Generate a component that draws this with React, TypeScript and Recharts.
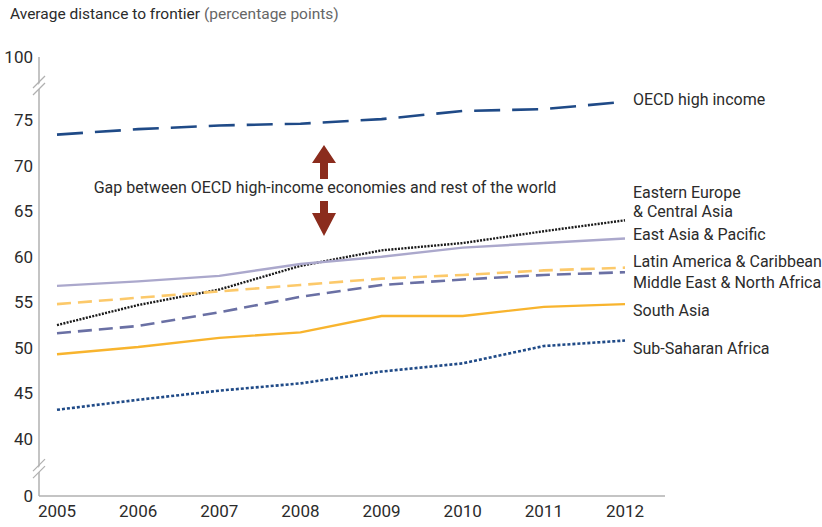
import { LineChart, Line, XAxis, YAxis } from 'recharts';

// values
const years = ['2005', '2006', '2007', '2008', '2009', '2010', '2011', '2012'];
const oecdHighIncome = [73.4, 74.0, 74.4, 74.6, 75.1, 76.0, 76.2, 77.0];
const easternEurope = [52.5, 54.7, 56.4, 59.0, 60.7, 61.5, 62.8, 64.0];
const eastAsia = [56.8, 57.3, 57.9, 59.2, 60.0, 61.0, 61.5, 62.0];
const latinAmerica = [54.8, 55.5, 56.2, 56.9, 57.6, 58.0, 58.5, 58.8];
const middleEast = [51.6, 52.4, 53.9, 55.6, 56.9, 57.5, 58.0, 58.3];
const southAsia = [49.3, 50.1, 51.1, 51.7, 53.5, 53.5, 54.5, 54.8];
const subSaharan = [43.2, 44.3, 45.3, 46.1, 47.4, 48.3, 50.2, 50.8];

// broken y axis: 0 and 100 are drawn just outside the 40–75 range
const AXIS_ZERO = 33.74;
const AXIS_HUNDRED = 81.92;
const BREAK_LOW = 36.8;
const BREAK_HIGH = 78.85;
const midTicks = [40, 45, 50, 55, 60, 65, 70, 75];

const FONT = "Roboto, 'Open Sans', sans-serif";
const TEXT = '#2b2b2b';
const AXIS = '#b0b0b0';

const series = [
  { key: 'oecd', values: oecdHighIncome, color: '#1f4a87', dash: '26 12', width: 2.6, label: ['OECD high income'], dy: -3 },
  { key: 'eca', values: easternEurope, color: '#1a1a1a', dash: '2 1.3', width: 2.4, label: ['Eastern Europe', '& Central Asia'], dy: -28.5 },
  { key: 'eap', values: eastAsia, color: '#aba8cc', dash: undefined, width: 2.4, label: ['East Asia & Pacific'], dy: -5 },
  { key: 'lac', values: latinAmerica, color: '#fcc96a', dash: '14 7', width: 2.6, label: ['Latin America & Caribbean'], dy: -7 },
  { key: 'mena', values: middleEast, color: '#6a70a4', dash: '14 7', width: 2.6, label: ['Middle East & North Africa'], dy: 10 },
  { key: 'sa', values: southAsia, color: '#f8b42e', dash: undefined, width: 2.4, label: ['South Asia'], dy: 6 },
  { key: 'ssa', values: subSaharan, color: '#1f4a87', dash: '3 2', width: 2.6, label: ['Sub-Saharan Africa'], dy: 7 },
];

const data = years.map((year, i) => {
  const row: Record<string, string | number> = { year };
  series.forEach((s) => (row[s.key] = s.values[i]));
  return row;
});

function YTick(props: any) {
  const { x, y, payload } = props;
  const v = payload.value;
  if (v === BREAK_LOW || v === BREAK_HIGH) {
    const ax = x + 6;
    return (
      <g>
        <polygon points={`${ax - 6},${y + 5} ${ax + 6},${y - 7} ${ax + 6},${y - 2} ${ax - 6},${y + 10}`} fill="#fff" />
        <line x1={ax - 6} y1={y + 10} x2={ax + 6} y2={y - 2} stroke={AXIS} strokeWidth={1.3} />
        <line x1={ax - 6} y1={y + 3} x2={ax + 6} y2={y - 9} stroke={AXIS} strokeWidth={1.3} />
      </g>
    );
  }
  const text = v === AXIS_ZERO ? '0' : v === AXIS_HUNDRED ? '100' : String(v);
  return (
    <text x={x} y={y} dy={6} textAnchor="end" fill={TEXT} fontSize={17} fontFamily={FONT}>
      {text}
    </text>
  );
}

function endLabel(lines: string[], dy: number) {
  return (props: any) => {
    const { x, y, index } = props;
    if (index !== years.length - 1) return null;
    return (
      <g>
        {lines.map((l, i) => (
          <text key={i} x={x + 8} y={y + dy + 6 + i * 19} fill={TEXT} fontSize={16} fontFamily={FONT}>
            {l}
          </text>
        ))}
      </g>
    );
  };
}

export default function App() {
  return (
    <div style={{ position: 'absolute', left: 0, top: 0, width: 822, height: 527, background: '#fff', fontFamily: FONT }}>
      <div style={{ position: 'absolute', left: 10, top: 5, fontSize: 15.5, color: TEXT, whiteSpace: 'nowrap' }}>
        Average distance to frontier <span style={{ color: '#666' }}>(percentage points)</span>
      </div>
      <LineChart width={822} height={527} data={data} margin={{ top: 57, right: 157, bottom: 0, left: 0 }}>
        <XAxis
          dataKey="year"
          padding={{ left: 18, right: 40 }}
          tickLine={false}
          tickSize={0}
          tickMargin={9}
          height={31}
          axisLine={{ stroke: AXIS, strokeWidth: 1.5 }}
          tick={{ fill: TEXT, fontSize: 17, fontFamily: FONT }}
        />
        <YAxis
          type="number"
          domain={[AXIS_ZERO, AXIS_HUNDRED]}
          ticks={[AXIS_ZERO, BREAK_LOW, ...midTicks, BREAK_HIGH, AXIS_HUNDRED]}
          interval={0}
          width={39}
          tickLine={false}
          tickSize={0}
          tickMargin={6}
          axisLine={{ stroke: AXIS, strokeWidth: 1.5 }}
          tick={<YTick />}
        />
        {series.map((s) => (
          <Line
            key={s.key}
            dataKey={s.key}
            type="linear"
            stroke={s.color}
            strokeWidth={s.width}
            strokeDasharray={s.dash}
            dot={false}
            activeDot={false}
            isAnimationActive={false}
            label={endLabel(s.label, s.dy)}
          />
        ))}
      </LineChart>
      <svg width={822} height={527} style={{ position: 'absolute', left: 0, top: 0, pointerEvents: 'none' }}>
        <polygon points="324,145 336,163 328,163 328,179 320,179 320,163 312,163" fill="#8b2c1d" />
        <polygon points="324,236 336,213 328,213 328,201 320,201 320,213 312,213" fill="#8b2c1d" />
        <text x={325} y={193} textAnchor="middle" fill={TEXT} fontSize={16} fontFamily={FONT}>
          Gap between OECD high-income economies and rest of the world
        </text>
      </svg>
    </div>
  );
}
